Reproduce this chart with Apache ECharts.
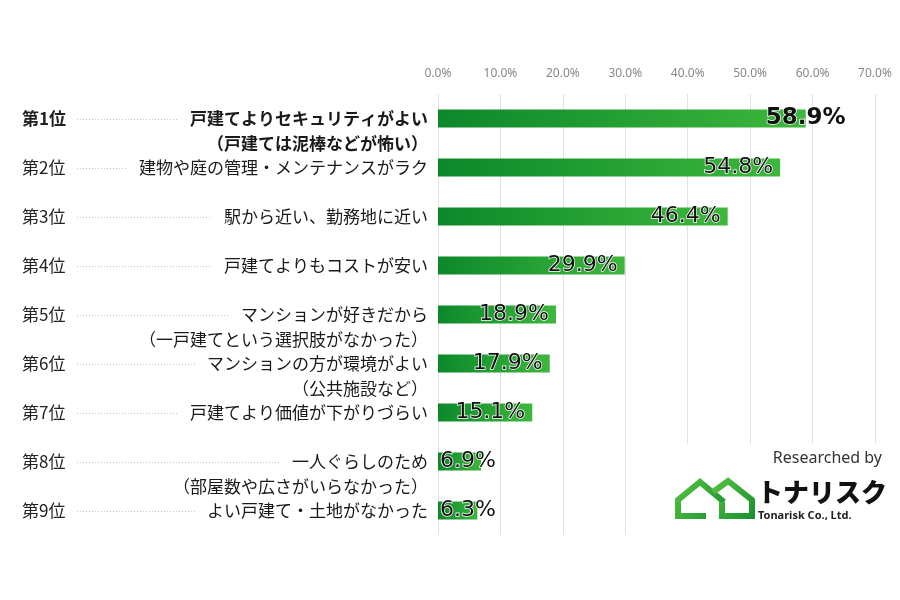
<!DOCTYPE html>
<html>
<head>
<meta charset="utf-8">
<script src="https://cdn.jsdelivr.net/npm/echarts@6/dist/echarts.min.js"></script>
<style>html,body{margin:0;padding:0;background:#fff}#c{width:900px;height:600px}</style>
</head>
<body>
<div id="c"></div>
<script>
const ranks = ['第1位','第2位','第3位','第4位','第5位','第6位','第7位','第8位','第9位'];
const categories = [
  '戸建てよりセキュリティがよい\n（戸建ては泥棒などが怖い）',
  '建物や庭の管理・メンテナンスがラク',
  '駅から近い、勤務地に近い',
  '戸建てよりもコストが安い',
  'マンションが好きだから\n（一戸建てという選択肢がなかった）',
  'マンションの方が環境がよい\n（公共施設など）',
  '戸建てより価値が下がりづらい',
  '一人ぐらしのため\n（部屋数や広さがいらなかった）',
  'よい戸建て・土地がなかった'
];
const values = [58.9, 54.8, 46.4, 29.9, 18.9, 17.9, 15.1, 6.9, 6.3];
const axisMin = 0, axisMax = 70, axisStep = 10;

const JP = '"Noto Sans CJK JP", "Noto Sans", sans-serif';
const cv = document.createElement('canvas').getContext('2d');
function textW(t, bold) {
  cv.font = (bold ? 'bold ' : '') + '17px "Noto Sans CJK JP"';
  return cv.measureText(t).width;
}

const chart = echarts.init(document.getElementById('c'), null, {renderer: 'canvas'});

const barData = values.map((v, i) => {
  if (i === 0) return {value: v, label: {position: ['100%', '50%'], align: 'center', verticalAlign: 'middle', fontWeight: 'bold', fontSize: 23}};
  if (v < 10) return {value: v, label: {position: 'insideLeft', distance: 2}};
  return v;
});

const option = {
  animation: false,
  grid: {left: 438, right: 25, top: 94, bottom: 65, containLabel: false},
  xAxis: {
    type: 'value', position: 'top', min: axisMin, max: axisMax, interval: axisStep,
    axisLine: {show: false}, axisTick: {show: false},
    axisLabel: {formatter: v => v.toFixed(1) + '%', color: '#888', fontSize: 12, margin: 14, fontFamily: '"Noto Sans", sans-serif'},
    splitLine: {lineStyle: {color: '#e2e2e2', width: 1}}
  },
  yAxis: {
    type: 'category', inverse: true, data: categories,
    axisLine: {show: false}, axisTick: {show: false}, axisLabel: {show: false}, splitLine: {show: false}
  },
  series: [
    {
      type: 'bar', data: barData, barWidth: 18,
      itemStyle: {
        color: new echarts.graphic.LinearGradient(0, 0, 1, 0, [
          {offset: 0, color: '#0c882b'},
          {offset: 1, color: '#3db73b'}
        ])
      },
      label: {
        show: true, position: 'insideRight', distance: 7,
        formatter: '{c}%', fontFamily: '"DejaVu Sans", sans-serif', fontSize: 22,
        color: '#111', textBorderColor: '#fff', textBorderWidth: 1.5
      },
      z: 3
    },
    {
      type: 'custom', clip: false, silent: true,
      data: categories.map((c, i) => [0, i]),
      encode: {x: 0, y: 1},
      renderItem: function (params, api) {
        const i = params.dataIndex;
        const p = api.coord([0, i]);
        const xr = p[0] - 10, yc = p[1];
        const bold = i === 0;
        const lines = categories[i].split('\n');
        const w = textW(lines[0], bold);
        const ly = Math.round(yc) + 0.5;
        return {
          type: 'group',
          children: [
            {type: 'text', style: {text: ranks[i], x: 22, y: yc, align: 'left', verticalAlign: 'middle',
              fontSize: 17, fontWeight: bold ? 'bold' : 'normal', fontFamily: JP, fill: '#222'}},
            {type: 'line', shape: {x1: 77, y1: ly, x2: xr - w - 12, y2: ly},
              style: {stroke: '#c4c4c4', lineWidth: 1, lineDash: [1, 2]}},
            {type: 'text', style: {text: categories[i], x: xr, y: yc - 12.5, align: 'right', verticalAlign: 'top',
              lineHeight: 25, fontSize: 17, fontWeight: bold ? 'bold' : 'normal', fontFamily: JP, fill: '#1a1a1a'}}
          ]
        };
      }
    }
  ],
  graphic: [
    {type: 'rect', z: 100, shape: {x: 655, y: 444, width: 245, height: 96}, style: {fill: '#fff'}},
    {type: 'text', z: 101, style: {text: 'Researched by', x: 882, y: 458, align: 'right', verticalAlign: 'middle',
      fontSize: 16, fontFamily: '"Noto Sans", sans-serif', fill: '#333'}},
    {type: 'polyline', z: 101, shape: {points: [[706, 516], [678, 516], [678, 500], [700, 482], [724, 502]]},
      style: {fill: 'none', lineWidth: 6, lineJoin: 'miter',
        stroke: new echarts.graphic.LinearGradient(0, 0, 1, 1, [{offset: 0, color: '#5cc442'}, {offset: 1, color: '#12902e'}])}},
    {type: 'polyline', z: 101, shape: {points: [[713, 492], [728, 481], [752, 500], [752, 516], [722, 516], [722, 502]]},
      style: {fill: 'none', lineWidth: 6, lineJoin: 'miter',
        stroke: new echarts.graphic.LinearGradient(0, 0, 1, 1, [{offset: 0, color: '#5cc442'}, {offset: 1, color: '#12902e'}])}},
    {type: 'text', z: 101, style: {text: 'トナリスク', x: 757, y: 492, align: 'left', verticalAlign: 'middle',
      fontSize: 26, fontWeight: 900, fontFamily: JP, fill: '#111'}},
    {type: 'text', z: 101, style: {text: 'Tonarisk Co., Ltd.', x: 758, y: 516, align: 'left', verticalAlign: 'middle',
      fontSize: 11, fontWeight: 'bold', fontFamily: '"Noto Sans", sans-serif', fill: '#222'}}
  ]
};
chart.setOption(option);
</script>
</body>
</html>
